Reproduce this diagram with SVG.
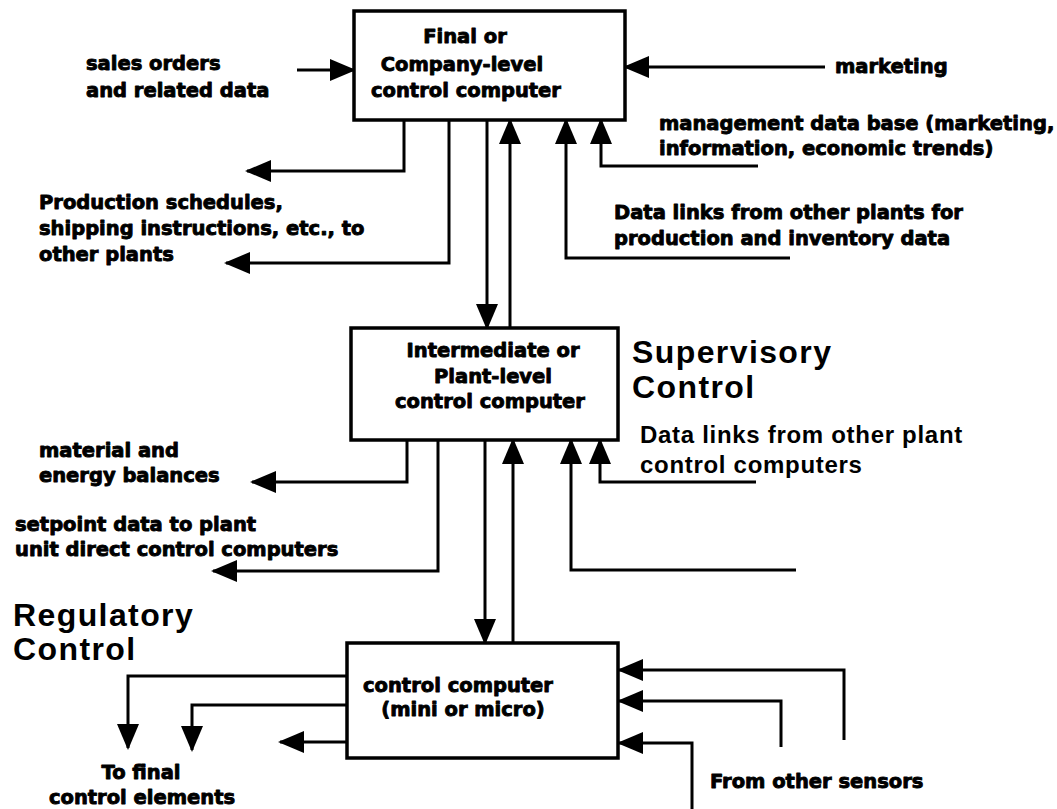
<svg xmlns="http://www.w3.org/2000/svg" width="1057" height="809" viewBox="0 0 1057 809">
<style>
.box{fill:#fff;stroke:#000;stroke-width:3.5}
.ln{fill:none;stroke:#000;stroke-width:3;stroke-linejoin:miter}
.lb{font-family:"DejaVu Sans",sans-serif;font-weight:bold;font-size:19.5px;fill:#000;stroke:#000;stroke-width:0.9;stroke-linejoin:round}
.mid{text-anchor:middle}
.big{font-family:"Liberation Sans",Arial,sans-serif;font-weight:bold;font-size:32px;letter-spacing:1.4px;fill:#000}
.med{font-family:"Liberation Sans",Arial,sans-serif;font-weight:bold;font-size:24px;letter-spacing:0.7px;fill:#000}
</style>
<defs>
<marker id="ah" viewBox="0 0 26 22" refX="24" refY="11" markerWidth="26" markerHeight="22" markerUnits="userSpaceOnUse" orient="auto">
<path d="M0,0 L26,11 L0,22 Z" fill="#000"/>
</marker>
</defs>
<rect width="1057" height="809" fill="#fff"/>

<g id="connectors">
<path class="ln" marker-end="url(#ah)" d="M297,70 H354"/>
<path class="ln" marker-end="url(#ah)" d="M825,67 H625"/>
<path class="ln" marker-end="url(#ah)" d="M404,120 V171 H247"/>
<path class="ln" marker-end="url(#ah)" d="M449,120 V263 H226"/>
<path class="ln" marker-end="url(#ah)" d="M487,120 V328"/>
<path class="ln" marker-end="url(#ah)" d="M510,328 V120"/>
<path class="ln" marker-end="url(#ah)" d="M790,258 H566 V120"/>
<path class="ln" marker-end="url(#ah)" d="M758,166 H601 V120"/>
<path class="ln" marker-end="url(#ah)" d="M407,440 V482 H252"/>
<path class="ln" marker-end="url(#ah)" d="M438,440 V571 H213"/>
<path class="ln" marker-end="url(#ah)" d="M485,440 V643"/>
<path class="ln" marker-end="url(#ah)" d="M513,643 V440"/>
<path class="ln" marker-end="url(#ah)" d="M796,570 H571 V440"/>
<path class="ln" marker-end="url(#ah)" d="M756,482 H600 V440"/>
<path class="ln" marker-end="url(#ah)" d="M347,676 H128 V748"/>
<path class="ln" marker-end="url(#ah)" d="M347,705 H192 V750"/>
<path class="ln" marker-end="url(#ah)" d="M347,742 H280"/>
<path class="ln" marker-end="url(#ah)" d="M844,740 V670 H619"/>
<path class="ln" marker-end="url(#ah)" d="M781,747 V701 H619"/>
<path class="ln" marker-end="url(#ah)" d="M692,809 V743 H619"/>
</g>

<g id="company">
<rect class="box" x="354" y="11" width="271" height="109"/>
<text class="lb mid" x="465" y="43">Final or</text>
<text class="lb mid" x="462" y="71">Company-level</text>
<text class="lb mid" x="466" y="97">control computer</text>
</g>

<g id="plant">
<rect class="box" x="351" y="328" width="267" height="112"/>
<text class="lb mid" x="493" y="357">Intermediate or</text>
<text class="lb mid" x="493" y="383">Plant-level</text>
<text class="lb mid" x="490" y="408">control computer</text>
</g>

<g id="direct">
<rect class="box" x="347" y="643" width="271" height="115"/>
<text class="lb mid" x="458" y="692">control computer</text>
<text class="lb mid" x="463" y="716">(mini or micro)</text>
</g>

<g id="labels">
<text class="lb" x="86" y="70">sales orders</text>
<text class="lb" x="86" y="97">and related data</text>
<text class="lb" x="835" y="73">marketing</text>
<text class="lb" x="659" y="130">management data base (marketing,</text>
<text class="lb" x="659" y="155">information, economic trends)</text>
<text class="lb" x="39" y="209">Production schedules,</text>
<text class="lb" x="39" y="235">shipping instructions, etc., to</text>
<text class="lb" x="39" y="261">other plants</text>
<text class="lb" x="614" y="219">Data links from other plants for</text>
<text class="lb" x="614" y="245">production and inventory data</text>
<text class="big" x="632" y="363">Supervisory</text>
<text class="big" x="632" y="398">Control</text>
<text class="med" x="640" y="443">Data links from other plant</text>
<text class="med" x="640" y="473">control computers</text>
<text class="lb" x="39" y="457">material and</text>
<text class="lb" x="39" y="482">energy balances</text>
<text class="lb" x="15" y="531">setpoint data to plant</text>
<text class="lb" x="15" y="556">unit direct control computers</text>
<text class="big" x="13" y="626">Regulatory</text>
<text class="big" x="13" y="660">Control</text>
<text class="lb mid" x="141" y="779">To final</text>
<text class="lb mid" x="142" y="804">control elements</text>
<text class="lb" x="710" y="788">From other sensors</text>
</g>
</svg>
